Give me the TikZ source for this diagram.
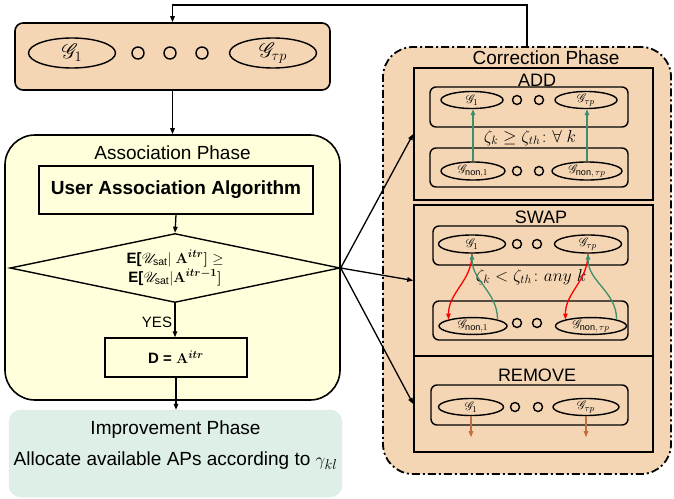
\documentclass[tikz,border=0pt]{standalone}
\usepackage{amsmath}
\usepackage{amssymb}
\usepackage{bm}
\usepackage{mathrsfs}
\usepackage[no-math]{fontspec}
\setmainfont{Liberation Sans}
\usepackage{xcolor}
\usepackage{tikz}
\usetikzlibrary{shapes.geometric,arrows.meta,positioning,calc}

\definecolor{phasetan}{HTML}{F4D6B4}
\definecolor{assocyellow}{HTML}{FFFFDC}
\definecolor{improvemint}{HTML}{DDEFE7}
\definecolor{addgreen}{HTML}{3E8E6E}
\definecolor{removebrown}{HTML}{C0703F}

\newcommand{\Gset}{\mathscr{G}}
\newcommand{\Aitr}[1]{\mathbf{A}^{\bm{#1}}}

\begin{document}
\begin{tikzpicture}[
  x=1pt, y=-1pt,
  grp/.style={draw, line width=1.4pt, rounded corners=6pt},
  ell/.style={draw, line width=1.4pt, ellipse, inner sep=0pt},
  dot/.style={draw, line width=1.4pt, circle, inner sep=0pt, minimum size=#1},
  frame/.style={draw, line width=1.6pt, minimum width=239pt},
  title/.style={font=\fontsize{19}{22}\selectfont},
  optitle/.style={font=\fontsize{18}{21}\selectfont},
  cond/.style={font=\fontsize{#1}{22}\selectfont},
  small/.style={font=\fontsize{13}{15}\selectfont},
  arr/.style={-{Triangle[length=6pt,width=4.5pt]}, line width=1.3pt},
  garr/.style={arr, addgreen},
  rarr/.style={arr, red},
  barr/.style={arr, removebrown}
]
\useasboundingbox (0,0) rectangle (674,498);

% Group sets on top
\node[draw, line width=1.6pt, rounded corners=8pt, fill=phasetan,
      minimum width=315pt, minimum height=67pt] (top) at (172.5,56.5) {};
\node[ell, minimum width=87pt, minimum height=30pt, font=\fontsize{21}{24}\selectfont]
      (tg1) at (72,53) {$\Gset_1$};
\node[dot=12pt] (td1) at (138,53) {};
\node[dot=12pt] (td2) at (170,53) {};
\node[dot=12pt] (td3) at (202,53) {};
\node[ell, minimum width=87pt, minimum height=30pt, font=\fontsize{21}{24}\selectfont]
      (tgt) at (273,53) {$\Gset_{\tau p}$};

% Association phase
\node[draw, line width=1.6pt, rounded corners=30pt, fill=assocyellow,
      minimum width=335pt, minimum height=265pt] (assoc) at (172.5,267.5) {};
\node[title] (assoclbl) at (172.5,153) {Association Phase};
\node[draw, line width=1.4pt, minimum width=274pt, minimum height=48pt,
      font=\fontsize{19}{22}\selectfont\bfseries] (uaa) at (176,190)
      {User Association Algorithm};
\node[draw, line width=1.4pt, diamond, aspect=4.78, inner sep=0pt,
      minimum width=330pt, minimum height=69pt] (dec) at (175,268) {};
\node[font=\fontsize{15}{19}\selectfont, align=center] (declbl) at (dec.center)
      {\textbf{E[}$\mathscr{U}_{\text{sat}}$\textbf{$|$} $\Aitr{itr}\bm{]}$ $\geq$\\
       \textbf{E[}$\mathscr{U}_{\text{sat}}$\textbf{$|$}$\Aitr{itr-1}\bm{]}$};
\node[draw, line width=1.4pt, minimum width=142pt, minimum height=39pt,
      font=\fontsize{15}{18}\selectfont\bfseries] (dbox) at (176,357.5)
      {D = $\Aitr{itr}$};
\node[font=\fontsize{15}{17}\selectfont] (yes) at (157,322) {YES};

% Improvement phase
\node[draw=improvemint!80!gray!60, fill=improvemint, rounded corners=12pt,
      minimum width=333pt, minimum height=87pt] (improve) at (175.5,453.5) {};
\node[title] (implbl) at (175.5,430) {Improvement Phase};
\node[title] (impdesc) at (175.5,461) {Allocate available APs according to $\gamma_{kl}$};

% Correction phase
\node[draw, line width=1.8pt, dash pattern=on 8pt off 3pt on 2pt off 3pt,
      rounded corners=30pt, fill=phasetan,
      minimum width=288pt, minimum height=427pt] (corr) at (527,260.5) {};
\node[title] (corrlbl) at (546,58) {Correction Phase};
\node[frame, minimum height=132pt] (add) at (533.5,134) {};
\node[frame, minimum height=151pt] (swap) at (533.5,280.5) {};
\node[frame, minimum height=96pt] (remove) at (533.5,404) {};
\node[optitle] (addlbl) at (537,80) {ADD};
\node[optitle] (swaplbl) at (541,217) {SWAP};
\node[optitle] (removelbl) at (537,375) {REMOVE};

% ADD
\node[grp, minimum width=198pt, minimum height=40pt] (addup) at (529,107) {};
\node[grp, minimum width=198pt, minimum height=39pt] (addlo) at (529,167.5) {};
\node[ell, small, minimum width=62pt, minimum height=17pt] (ag1) at (472,100) {$\Gset_1$};
\node[dot=9pt] (ad1) at (517,100) {};
\node[dot=9pt] (ad2) at (539,100) {};
\node[ell, small, minimum width=62pt, minimum height=17pt] (agt) at (586,100) {$\Gset_{\tau p}$};
\node[ell, small, minimum width=64pt, minimum height=18pt] (an1) at (473,171) {$\Gset_{\text{non},1}$};
\node[dot=9pt] (ad3) at (517,171) {};
\node[dot=9pt] (ad4) at (539,171) {};
\node[ell, small, minimum width=70pt, minimum height=18pt] (ant) at (587,171) {$\Gset_{\text{non},\,\tau p}$};
\node[cond=17] (addcond) at (530,138) {$\zeta_k \geq \zeta_{th}\colon \forall\ k$};
\draw[garr] (an1.north) -- (an1.north |- ag1.south);
\draw[garr] (ant.north) -- (ant.north |- agt.south);

% SWAP
\node[grp, minimum width=195pt, minimum height=39pt] (swapup) at (530.5,245.5) {};
\node[grp, minimum width=195pt, minimum height=39pt] (swaplo) at (530.5,320.5) {};
\node[ell, small, minimum width=67pt, minimum height=18pt] (sg1) at (472,244) {$\Gset_1$};
\node[dot=9pt] (sd1) at (517,244) {};
\node[dot=9pt] (sd2) at (537,244) {};
\node[ell, small, minimum width=67pt, minimum height=18pt] (sgt) at (588,244) {$\Gset_{\tau p}$};
\node[ell, small, minimum width=68pt, minimum height=16pt] (sn1) at (473,326) {$\Gset_{\text{non},1}$};
\node[dot=9pt] (sd3) at (517,323) {};
\node[dot=9pt] (sd4) at (537,323) {};
\node[ell, small, minimum width=71pt, minimum height=16pt] (snt) at (591,326) {$\Gset_{\text{non},\,\tau p}$};
\node[cond=18] (swapcond) at (531,277) {$\zeta_k < \zeta_{th}\colon any\ k$};
\draw[rarr] (sg1.south) to[out=-90, in=90] (sn1.north west);
\draw[garr] (sn1.north east) to[out=90, in=-90] (sg1.south);
\draw[rarr] (sgt.south) to[out=-90, in=90] (snt.north west);
\draw[garr] (snt.north east) to[out=90, in=-90] (sgt.south);

% REMOVE
\node[grp, minimum width=197pt, minimum height=40pt] (remgrp) at (529.5,405) {};
\node[ell, small, minimum width=65pt, minimum height=17pt] (rg1) at (471,407) {$\Gset_1$};
\node[dot=9pt] (rd1) at (515,407) {};
\node[dot=9pt] (rd2) at (538,407) {};
\node[ell, small, minimum width=66pt, minimum height=17pt] (rgt) at (586,407) {$\Gset_{\tau p}$};
\coordinate (rg1end) at ($(rg1.south)+(0,21)$);
\coordinate (rgtend) at ($(rgt.south)+(0,21)$);
\draw[barr] (rg1.south) -- (rg1end);
\draw[barr] (rgt.south) -- (rgtend);

% Flow arrows
\draw[arr] (corr.north) -- ++(0,-41) -| (top.north);
\draw[arr] (top.south) -- (assoc.north);
\draw[arr] (uaa.south) -- (dec.north);
\draw[arr] (dec.south) -- (dec.south |- dbox.north);
\draw[arr] (dbox.south) -- (dbox.south |- improve.north);
\draw[arr] (dec.east) -- (add.west);
\draw[arr] (dec.east) -- (swap.west);
\draw[arr] (dec.east) -- (remove.west);

\end{tikzpicture}
\end{document}
